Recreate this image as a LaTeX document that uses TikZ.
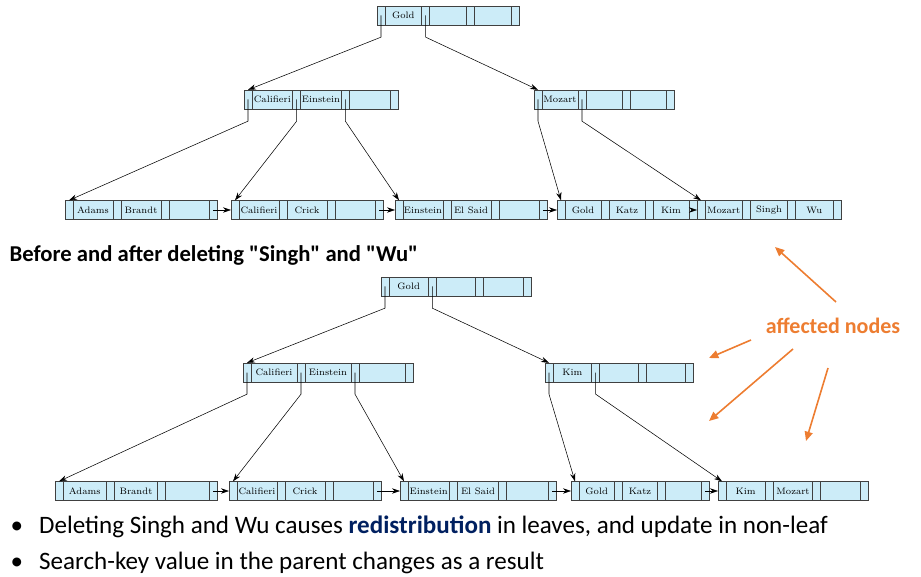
\documentclass[tikz,border=0pt]{standalone}
\usepackage{fontspec}
\newfontfamily\calfont{Carlito}
\usetikzlibrary{positioning,arrows.meta}
\definecolor{cellblue}{RGB}{204,236,248}
\definecolor{affect}{RGB}{237,125,49}
\definecolor{navy}{RGB}{0,32,96}
\tikzset{
  ptr/.style={draw=black!75, fill=cellblue, minimum width=6pt, minimum height=14.5pt, inner sep=0pt, outer sep=0pt},
  key/.style={ptr, font=\scriptsize},
  tree/.style={-{Stealth[length=6pt,width=4pt]}, thin},
  hl/.style={-{Triangle[length=7pt,width=6pt]}, affect, line width=1.2pt}
}
% \bnode{name}{x}{y}{key width}{key1}{key2}{key3}
\newcommand{\bnode}[7]{
  \node[ptr, anchor=west] (#1p1) at (#2,#3) {};
  \node[key, minimum width=#4, right=0pt of #1p1] (#1k1) {#5};
  \node[ptr, right=0pt of #1k1] (#1p2) {};
  \node[key, minimum width=#4, right=0pt of #1p2] (#1k2) {#6};
  \node[ptr, right=0pt of #1k2] (#1p3) {};
  \node[key, minimum width=#4, right=0pt of #1p3] (#1k3) {#7};
  \node[ptr, right=0pt of #1k3] (#1p4) {};
}
\newcommand{\child}[2]{\draw[tree] (#1.center) -- ([yshift=9pt]#1.south) -- (#2.north);}
\begin{document}
\begin{tikzpicture}[x=0.75pt,y=0.75pt,yscale=-1,xscale=1]
\useasboundingbox (0,0) rectangle (921,577);
% before deletion
\bnode{ga}{377}{15.5}{27.5pt}{Gold}{}{}
\bnode{ca}{244}{99.5}{30.5pt}{Califieri}{Einstein}{}
\bnode{ma}{534}{99.5}{27pt}{Mozart}{}{}
\bnode{la}{65}{210}{30pt}{Adams}{Brandt}{}
\bnode{lb}{231}{210}{30pt}{Califieri}{Crick}{}
\bnode{lc}{395}{210}{30pt}{Einstein}{El Said}{}
\bnode{ld}{557}{210}{27pt}{Gold}{Katz}{Kim}
\bnode{le}{697}{210}{28pt}{Mozart}{Singh}{Wu}
\child{gap1}{cap1} \child{gap2}{map1}
\child{cap1}{lap1} \child{cap2}{lbp1} \child{cap3}{lcp1}
\child{map1}{ldp1} \child{map2}{lep1}
\draw[tree] (lap4.center) -- (lbp1.west);
\draw[tree] (lbp4.center) -- (lcp1.west);
\draw[tree] (lcp4.center) -- (ldp1.west);
\draw[tree] (ldp4.center) -- (lep1.west);
\node[font=\calfont\bfseries\fontsize{17}{20}\selectfont, anchor=west] (cap) at (5,255) {Before and after deleting "Singh" and "Wu"};
% after deletion
\bnode{gb}{381}{286.5}{29.5pt}{Gold}{}{}
\bnode{cb}{243}{372.5}{34.5pt}{Califieri}{Einstein}{}
\bnode{mb}{545}{372.5}{29pt}{Kim}{}{}
\bnode{lf}{55}{491}{32.5pt}{Adams}{Brandt}{}
\bnode{lg}{229}{491}{30pt}{Califieri}{Crick}{}
\bnode{lh}{400}{491}{31pt}{Einstein}{El Said}{}
\bnode{li}{571}{491}{26.5pt}{Gold}{Katz}{}
\bnode{lj}{718}{491}{29.5pt}{Kim}{Mozart}{}
\child{gbp1}{cbp1} \child{gbp2}{mbp1}
\child{cbp1}{lfp1} \child{cbp2}{lgp1} \child{cbp3}{lhp1}
\child{mbp1}{lip1} \child{mbp2}{ljp1}
\draw[tree] (lfp4.center) -- (lgp1.west);
\draw[tree] (lgp4.center) -- (lhp1.west);
\draw[tree] (lhp4.center) -- (lip1.west);
\draw[tree] (lip4.center) -- (ljp1.west);
% highlight
\node[font=\calfont\bfseries\fontsize{16.5}{19}\selectfont, text=affect] (aff) at (833,326) {affected nodes};
\coordinate (s1) at (836,302); \coordinate (t1) at (775,247);
\coordinate (s2) at (751,340); \coordinate (t2) at (709,358);
\coordinate (s3) at (793,349); \coordinate (t3) at (709,421);
\coordinate (s4) at (828,368); \coordinate (t4) at (806,441);
\draw[hl] (s1) -- (t1);
\draw[hl] (s2) -- (t2);
\draw[hl] (s3) -- (t3);
\draw[hl] (s4) -- (t4);
\node[font=\calfont\fontsize{18.8}{22}\selectfont, anchor=west] (b1) at (6,527) {\textbullet\hspace{12pt}Deleting Singh and Wu causes \textcolor{navy}{\bfseries redistribution} in leaves, and update in non-leaf};
\node[font=\calfont\fontsize{18.8}{22}\selectfont, anchor=west] (b2) at (6,563) {\textbullet\hspace{12pt}Search-key value in the parent changes as a result};
\end{tikzpicture}
\end{document}
